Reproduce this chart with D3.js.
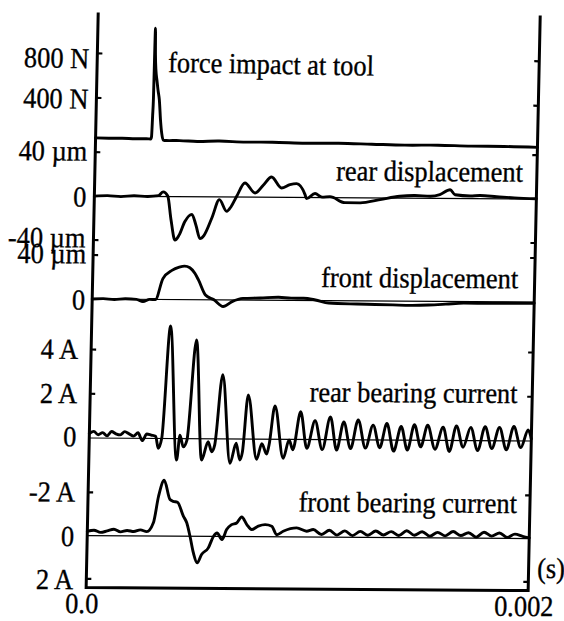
<!DOCTYPE html>
<html>
<head>
<meta charset="utf-8">
<title>impact response</title>
<style>
  body{margin:0;background:#fff;}
  svg{display:block;}
  text{font-family:"Liberation Serif","Times New Roman",serif;font-size:29px;fill:#000;stroke:#000;stroke-width:0.35;}
  .trace{fill:none;stroke:#000;stroke-width:2.9;stroke-linejoin:round;stroke-linecap:round;}
  .zero{stroke:#000;stroke-width:1.2;}
  .frame{stroke:#000;stroke-width:3;fill:none;stroke-linecap:square;}
  .tick{stroke:#000;stroke-width:2.2;}
</style>
</head>
<body>
<script src="https://cdn.jsdelivr.net/npm/d3@7"></script>
<script>
// time in microseconds, values in the unit of each panel
var force = [[0,41],[60,40],[120,42],[180,40],[230,41],[250,40],[253,60],[256,250],[258,400],[260.5,1037],[263,800],[267,650],[272,571],[278,480],[285,391],[292,212],[299,90],[306,32],[320,28],[380,30],[460,25],[560,32],[680,27],[800,30],[950,26],[1100,31],[1250,28],[1400,25],[1550,30],[1700,27],[1850,29],[2000,26]];
var rearDisp = [[0,0],[60,0.5],[120,-0.3],[180,0.6],[240,0],[290,0.8],[311,4.3],[332,0.5],[349,-21],[369,-39.6],[387,-35],[412,-22.6],[443,-16],[462,-25.6],[482,-38],[500,-35],[534,-19],[566,-2.4],[600,-13],[620,-8.6],[644,0.7],[680,12.9],[727,3.9],[763,11],[800,18.5],[846,8.6],[884,11.7],[914,12.6],[953,2.7],[960,-1],[998,3.7],[1030,0.5],[1066,1],[1134,-4.4],[1203,-4.5],[1293,-1.4],[1382,1.8],[1450,2.5],[1520,2],[1563,3.5],[1609,8],[1632,3.5],[1700,2.5],[1745,2.9],[1820,2],[1900,1],[2000,0.3]];
var frontDisp = [[0,0],[50,0.4],[100,-0.3],[150,0.5],[200,0],[230,-2],[260,0],[286,0],[318,19],[358,26.5],[391,29.5],[415,30.5],[439,29],[462,24],[479,18],[512,4.3],[551,0],[593,-6],[633,-1.5],[682,1.5],[760,2],[843,2.7],[900,2],[956,2],[1010,0.5],[1070,-2.2],[1198,-2.9],[1280,-3.2],[1361,-3.5],[1440,-3.8],[1522,-3.4],[1600,-2.5],[1682,-1.4],[1800,-1.5],[1900,-1.2],[2000,-1.1]];
var rearCurrent = [[0,0.2],[20,0.3],[40,0.15],[60,0.25],[80,0.1],[100,0.3],[120,0.2],[140,0.15],[160,0.3],[180,0.2],[200,0.1],[220,0.25],[240,-0.1],[260,0.2],[280,0.15],[300,0.1],[313,-0.44],[328,0.02],[357,5.09],[397,-0.97],[410,0.16],[426,-0.37],[442,-0.06],[476,4.47],[510,-0.96],[538,-0.13],[555,-0.58],[568,-0.28],[598,2.9],[639,-1.1],[665,-0.19],[683,-0.95],[694,-0.59],[715,2.0],[759,-0.91],[781,-0.2],[804,-0.67],[814,-0.26],[837,1.51],[879,-0.86],[904,-0.03],[922,-0.47],[954,1.25],[985,-0.4],[1020,0.85],[1055,-0.45],[1089,1.03],[1120,-0.47],[1150,0.8],[1183,-0.4],[1215,0.9],[1250,-0.37],[1283,0.67],[1315,-0.35],[1345,0.75],[1378,-0.5],[1410,0.62],[1440,-0.45],[1470,0.7],[1500,-0.3],[1530,0.68],[1565,-0.4],[1600,0.6],[1630,-0.5],[1660,0.66],[1692,-0.3],[1725,0.6],[1758,-0.45],[1790,0.63],[1822,-0.35],[1855,0.6],[1888,-0.4],[1920,0.65],[1953,-0.3],[1985,0.5],[2000,0.1]];
var frontCurrent = [[0,-0.2],[30,-0.25],[60,-0.15],[90,-0.22],[120,-0.3],[150,-0.18],[180,-0.25],[210,-0.2],[240,-0.28],[269,-0.2],[298,-0.61],[319,-1.84],[343,-2.58],[371,-1.69],[386,-1.61],[405,-1.57],[433,-0.93],[449,-0.62],[465,0],[482,0.77],[500,1.23],[519,0.84],[549,0.53],[571,0],[587,-0.16],[610,0.14],[630,-0.32],[652,-0.55],[675,-0.63],[697,-0.91],[721,-0.56],[743,-0.33],[773,-0.49],[804,-0.56],[834,-0.49],[857,-0.1],[886,-0.26],[947,-0.42],[992,-0.27],[1022,-0.35],[1060,-0.12],[1095,-0.32],[1130,-0.1],[1165,-0.3],[1200,-0.08],[1235,-0.28],[1270,-0.1],[1305,-0.3],[1340,-0.12],[1375,-0.28],[1410,-0.1],[1445,-0.32],[1480,-0.12],[1515,-0.28],[1550,-0.08],[1585,-0.26],[1620,-0.1],[1655,-0.3],[1690,-0.12],[1725,-0.25],[1760,-0.05],[1795,-0.28],[1830,-0.1],[1865,-0.25],[1900,-0.05],[1935,-0.2],[1970,-0.1],[2000,-0.03]];

var forceTicks = [800, 400], forceTickText = ["800 N", "400 N"];
var rearDispTicks = [40, 0, -40], rearDispTickText = ["40 \u00b5m", "0", "-40 \u00b5m"];
var frontDispTicks = [40, 0], frontDispTickText = ["40 \u00b5m", "0"];
var rearCurTicks = [4, 2, 0], rearCurTickText = ["4 A", "2 A", "0"];
var frontCurTicks = [-2, 0, 2], frontCurTickText = ["-2 A", "0", "2 A"];
var timeTicks = [0, 2000], timeTickText = ["0.0", "0.002"];

var width = 564, height = 621;
var sx = 0.91; // scanned type is a bit narrow
var plotL = 92, plotR = 534, plotT = 15.5, plotB = 589;

var svg = d3.select("body").append("svg")
  .attr("width", width).attr("height", height);
svg.append("rect").attr("width", width).attr("height", height).attr("fill", "#fff");

// the scan is slightly sheared
var g = svg.append("g").attr("transform", "matrix(1,0.0068,-0.021,1,6.51,-2.108)");

var x = d3.scaleLinear().domain([0, 2000]).range([plotL, plotR]);

function txt(sel, px, py, s, anchor) {
  return sel.append("text")
    .attr("transform", "translate(" + px + "," + py + ") scale(" + sx + ",1)")
    .attr("text-anchor", anchor || "start")
    .text(s);
}

var panels = [
  {data: force, ticks: forceTicks, tickText: forceTickText, domain: [0, 800], range: [146.3, 57.3],
   zero: false, labelX: 84, dy: [5.5, 1.5], name: "force impact at tool", nx: 163, ny: 74.6, na: "start",
   extra: "matrix(1,0.011,0,1,0,-3.41)"},
  {data: rearDisp, ticks: rearDispTicks, tickText: rearDispTickText, domain: [-40, 40], range: [241.5, 153.7],
   zero: true, labelX: 84, dy: [-1, 1, -2], name: "rear displacement", nx: 520, ny: 180.3, na: "end"},
  {data: frontDisp, ticks: frontDispTicks, tickText: frontDispTickText, domain: [0, 40], range: [300.5, 256.5],
   zero: true, labelX: 85, dy: [-1, 1], name: "front displacement", nx: 517.5, ny: 286.9, na: "end"},
  {data: rearCurrent, ticks: rearCurTicks, tickText: rearCurTickText, domain: [0, 4], range: [439.5, 351],
   zero: true, labelX: 79, dy: [0, 0, -1], name: "rear bearing current", nx: 519.3, ny: 401.6, na: "end"},
  {data: frontCurrent, ticks: frontCurTicks, tickText: frontCurTickText, domain: [-2, 2], range: [493.8, 580.3],
   zero: true, labelX: 79, dy: [0, 1, 1], name: "front bearing current", nx: 521, ny: 511.6, na: "end"}
];

panels.forEach(function(p) {
  var pg = g.append("g");
  if (p.extra) pg.attr("transform", p.extra);
  var y = d3.scaleLinear().domain(p.domain).range(p.range);

  if (p.zero) {
    pg.append("line").attr("class", "zero")
      .attr("x1", plotL).attr("x2", plotR)
      .attr("y1", y(0)).attr("y2", y(0));
  }

  p.ticks.forEach(function(t, i) {
    if (t !== 0) {
      pg.append("line").attr("class", "tick")
        .attr("x1", plotL).attr("x2", plotL + 5).attr("y1", y(t)).attr("y2", y(t));
      pg.append("line").attr("class", "tick")
        .attr("x1", plotR).attr("x2", plotR - 5).attr("y1", y(t)).attr("y2", y(t));
    }
    txt(pg, p.labelX, y(t) + p.dy[i] + 9.5, p.tickText[i], "end");
  });

  var line = d3.line()
    .curve(d3.curveMonotoneX)
    .x(function(d) { return x(d[0]); })
    .y(function(d) { return y(d[1]); });
  pg.append("path").attr("class", "trace").attr("d", line(p.data));

  txt(pg, p.nx, p.ny, p.name, p.na);
});

// frame: both sides and the bottom, open at the top
g.append("path").attr("class", "frame")
  .attr("d", "M" + plotL + "," + plotT + "V" + plotB + "H" + plotR + "V" + plotT);

timeTicks.forEach(function(t, i) {
  txt(g, x(t) - 4, 614.5, timeTickText[i], "middle");
});
txt(g, 542.5, 576.4, "(s)", "start");
</script>
</body>
</html>
